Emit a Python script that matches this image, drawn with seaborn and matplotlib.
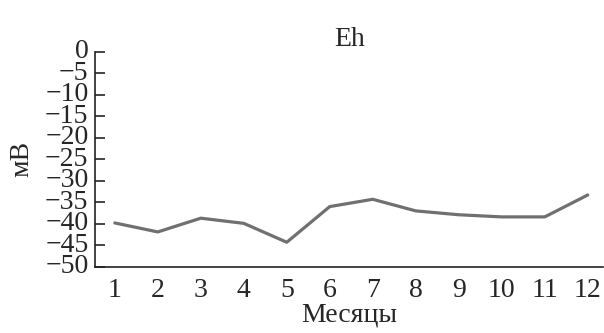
import numpy as np
import pandas as pd
import matplotlib
matplotlib.use("Agg")
import matplotlib.pyplot as plt
import seaborn as sns

months = [1, 2, 3, 4, 5, 6, 7, 8, 9, 10, 11, 12]
eh_values = [-39.8, -41.9, -38.7, -39.9, -44.3, -36.0, -34.3, -37.0, -37.9, -38.4, -38.4, -33.3]
y_ticks = [0, -5, -10, -15, -20, -25, -30, -35, -40, -45, -50]

df = pd.DataFrame({"month": months, "eh": eh_values})

sns.set_style("ticks")
plt.rcParams["font.family"] = ["Liberation Serif", "DejaVu Serif"]
plt.rcParams["axes.unicode_minus"] = True

fig = plt.figure(figsize=(6.04, 3.33), dpi=100)
ax = fig.add_axes([0.158, 0.199, 0.840, 0.645])
sns.lineplot(data=df, x="month", y="eh", color="#707070", linewidth=2.3, ax=ax)

ax.set_xlim(0.55, 12.35)
ax.set_ylim(-50, 0)
ax.set_xticks(months)
ax.set_yticks(y_ticks)
ax.tick_params(axis="y", direction="in", length=7, width=1.2, labelsize=20, pad=5)
ax.tick_params(axis="x", length=0, labelsize=20, pad=8)
for lab in ax.get_yticklabels():
    lab.set_verticalalignment("center")
sns.despine(ax=ax)
for s in ["left", "bottom"]:
    ax.spines[s].set_linewidth(1.2)
    ax.spines[s].set_color("#222222")

ax.set_title("Eh", fontsize=20, pad=4)
ax.set_xlabel("Месяцы", fontsize=20, labelpad=0)
ax.set_ylabel("мВ", fontsize=20, labelpad=8)

fig.savefig("out.png", dpi=100)
